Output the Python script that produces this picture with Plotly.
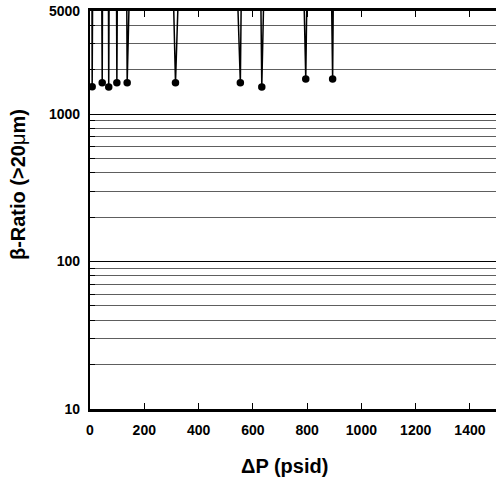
import plotly.graph_objects as go

# Data (values above the top of the axis are off-scale spikes)
dp_psid = [0, 8, 26, 45, 57, 69, 84, 99, 118, 137, 226, 315, 434, 554, 593, 633, 714, 795, 845, 894, 925]
beta_ratio = [1e10, 1535, 1e10, 1633, 1e10, 1527, 1e10, 1633, 1e10, 1633, 1e10, 1633,
              1e10, 1630, 1e10, 1527, 1e10, 1730, 1e10, 1730, 1e10]

x_ticks = [0, 200, 400, 600, 800, 1000, 1200, 1400]
y_ticks = [10, 100, 1000, 5000]
y_ticktext = ["10", "100", "1000", "5000"]
y_minor = [20, 30, 40, 50, 60, 70, 80, 90, 200, 300, 400, 500, 600, 700, 800, 900, 2000, 3000, 4000]

OFFSCALE = 1e9
meas_x = [x for x, b in zip(dp_psid, beta_ratio) if b < OFFSCALE]
meas_y = [b for b in beta_ratio if b < OFFSCALE]

FONT = "Liberation Sans, Arial, Helvetica, sans-serif"

fig = go.Figure()
fig.add_trace(go.Scatter(x=dp_psid, y=beta_ratio, mode="lines",
                         line=dict(color="black", width=1.5), hoverinfo="skip"))
fig.add_trace(go.Scatter(x=meas_x, y=meas_y, mode="markers",
                         marker=dict(color="black", size=7.5), cliponaxis=False))

fig.update_layout(
    width=496, height=483,
    margin=dict(l=90, r=0, t=11, b=74),
    plot_bgcolor="white", paper_bgcolor="white",
    showlegend=False,
    font=dict(family=FONT, color="black", size=14, weight="bold"),
    xaxis=dict(
        range=[0, 1496], tickvals=x_ticks, ticks="inside", ticklen=6, tickwidth=1.2,
        tickcolor="black", showline=True, linecolor="black", linewidth=2.6,
        mirror="allticks", showgrid=False, zeroline=False,
        ticklabelstandoff=6, tickfont=dict(size=14, weight="bold"),
    ),
    yaxis=dict(
        type="log", range=[1, 3.699], tickvals=y_ticks, ticktext=y_ticktext,
        ticks="inside", ticklen=5, tickcolor="black",
        showline=True, linecolor="black", linewidth=2.2,
        showgrid=True, gridcolor="black", gridwidth=1.2, zeroline=False,
        ticklabelstandoff=5, tickfont=dict(size=14, weight="bold"),
        minor=dict(tickvals=y_minor, showgrid=True, gridcolor="#5e5e5e", gridwidth=1,
                   ticks="inside", ticklen=5, tickcolor="black"),
    ),
    annotations=[
        dict(text="ΔP (psid)", xref="paper", yref="paper", x=0.48, y=-0.143,
             xanchor="center", yanchor="middle", showarrow=False,
             font=dict(size=20, weight="bold")),
        dict(text="β-Ratio (>20<span style='font-weight:normal'>μ</span>m)",
             xref="paper", yref="paper", x=-0.177, y=0.563, textangle=-90,
             xanchor="center", yanchor="middle", showarrow=False,
             font=dict(size=20, weight="bold")),
    ],
)

fig.write_html("out.html", config={"displayModeBar": False},
               post_script="document.body.style.margin='0';document.body.style.overflow='hidden';")
